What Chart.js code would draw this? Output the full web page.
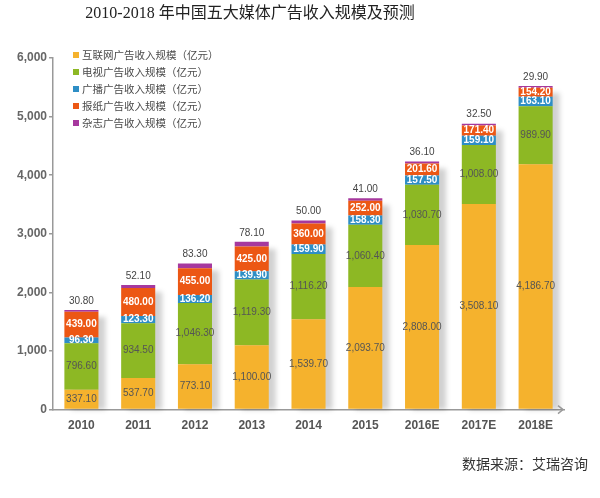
<!DOCTYPE html>
<html><head><meta charset="utf-8">
<script src="https://cdn.jsdelivr.net/npm/chart.js@4"></script>
<style>html,body{margin:0;padding:0;background:#fff}</style>
</head><body>
<canvas id="c" width="600" height="498" style="display:block;width:600px;height:498px"></canvas>
<script>
const categories = ['2010','2011','2012','2013','2014','2015','2016E','2017E','2018E'];
const internetValues = [337.1, 537.7, 773.1, 1100.0, 1539.7, 2093.7, 2808.0, 3508.1, 4186.7];
const tvValues = [796.6, 934.5, 1046.3, 1119.3, 1116.2, 1060.4, 1030.7, 1008.0, 989.9];
const radioValues = [96.3, 123.3, 136.2, 139.9, 159.9, 158.3, 157.5, 159.1, 163.1];
const newspaperValues = [439.0, 480.0, 455.0, 425.0, 360.0, 252.0, 201.6, 171.4, 154.2];
const magazineValues = [30.8, 52.1, 83.3, 78.1, 50.0, 41.0, 36.1, 32.5, 29.9];
const seriesNames = ['互联网广告收入规模（亿元）','电视广告收入规模（亿元）','广播广告收入规模（亿元）','报纸广告收入规模（亿元）','杂志广告收入规模（亿元）'];
const yTicks = [0, 1000, 2000, 3000, 4000, 5000, 6000];
const titleText = '2010-2018 年中国五大媒体广告收入规模及预测';
const sourceText = '数据来源：艾瑞咨询';

const colors = ['#F5B22D', '#8DB824', '#2E8EC5', '#EC5714', '#A6389E'];
const labelColors = ['#555', '#555', '#fff', '#fff', '#444'];
const fmt = v => v.toLocaleString('en-US', {minimumFractionDigits: 2, maximumFractionDigits: 2});

const allSeries = [internetValues, tvValues, radioValues, newspaperValues, magazineValues];

const extras = {
  id: 'extras',
  beforeDatasetsDraw(chart) {
    const ctx = chart.ctx;
    const last = chart.getDatasetMeta(chart.data.datasets.length - 1);
    const base = chart.scales.y.getPixelForValue(0);
    ctx.save();
    ctx.filter = 'blur(2.5px)';
    ctx.fillStyle = 'rgba(0,0,0,0.18)';
    last.data.forEach(bar => {
      const p = bar.getProps(['x', 'y', 'width'], true);
      ctx.fillRect(p.x - p.width / 2 + 7, p.y + 7, p.width, base - p.y - 7);
    });
    ctx.restore();
  },
  afterDatasetsDraw(chart) {
    const ctx = chart.ctx;
    ctx.save();
    ctx.textAlign = 'center';
    ctx.textBaseline = 'middle';
    chart.data.datasets.forEach((ds, i) => {
      const meta = chart.getDatasetMeta(i);
      meta.data.forEach((bar, j) => {
        const p = bar.getProps(['x', 'y', 'base'], true);
        const v = ds.data[j];
        ctx.fillStyle = labelColors[i];
        ctx.font = (i === 2 || i === 3 ? 'bold ' : '') + "10px 'Liberation Sans', Arial, sans-serif";
        let y = (i === 4) ? p.y - 9 : (p.y + p.base) / 2;
        ctx.fillText(fmt(v), p.x, y);
      });
    });
    ctx.restore();
  },
  afterDraw(chart) {
    const ctx = chart.ctx;
    const ca = chart.chartArea;
    ctx.save();
    // title
    ctx.fillStyle = '#222';
    ctx.textAlign = 'center';
    ctx.textBaseline = 'middle';
    ctx.font = "16px 'Liberation Serif', 'Noto Sans CJK SC', serif";
    ctx.fillText(titleText, 250, 14);
    // source
    ctx.textAlign = 'right';
    ctx.font = "14px 'Liberation Serif', 'Noto Sans CJK SC', serif";
    ctx.fillStyle = '#333';
    ctx.fillText(sourceText, 588, 465);
    // legend
    ctx.textAlign = 'left';
    ctx.font = "10.5px 'Noto Sans CJK SC', sans-serif";
    chart.data.datasets.forEach((ds, i) => {
      const y = 55 + i * 17;
      ctx.fillStyle = ds.backgroundColor;
      ctx.fillRect(73, y - 3, 6, 6);
      ctx.fillStyle = '#4a4a4a';
      ctx.fillText(ds.label, 82, y + 0.5);
    });
    // x-axis arrow
    const yb = chart.scales.y.getPixelForValue(0);
    ctx.strokeStyle = '#999';
    ctx.lineWidth = 1.5;
    ctx.beginPath();
    ctx.moveTo(ca.right - 6, yb - 4);
    ctx.lineTo(ca.right - 1, yb);
    ctx.lineTo(ca.right - 6, yb + 4);
    ctx.stroke();
    ctx.restore();
  }
};

new Chart(document.getElementById('c'), {
  type: 'bar',
  data: {
    labels: categories,
    datasets: allSeries.map((vals, i) => ({
      label: seriesNames[i],
      data: vals,
      backgroundColor: colors[i],
      borderWidth: 0,
      categoryPercentage: 1.0,
      barPercentage: 0.6
    }))
  },
  options: {
    responsive: false,
    animation: false,
    devicePixelRatio: 1,
    layout: { padding: { top: 58, left: 15, right: 36, bottom: 56 } },
    plugins: {
      legend: { display: false },
      title: { display: false },
      tooltip: { enabled: false }
    },
    scales: {
      x: {
        stacked: true,
        grid: { display: false, drawTicks: false },
        border: { display: true, color: '#999', width: 1.5 },
        ticks: { color: '#555', padding: 9, font: { family: "'Liberation Sans', Arial, sans-serif", size: 12, weight: 'bold' } }
      },
      y: {
        stacked: true,
        min: 0,
        max: 6000,
        afterBuildTicks: axis => { axis.ticks = yTicks.map(v => ({ value: v })); },
        grid: { drawOnChartArea: false, drawTicks: true, tickLength: 4, color: '#999', lineWidth: 1.5 },
        border: { display: true, color: '#999', width: 1.5 },
        ticks: { color: '#666', padding: 2, font: { family: "'Liberation Sans', Arial, sans-serif", size: 12, weight: 'bold' } }
      }
    }
  },
  plugins: [extras]
});
</script>
</body></html>
